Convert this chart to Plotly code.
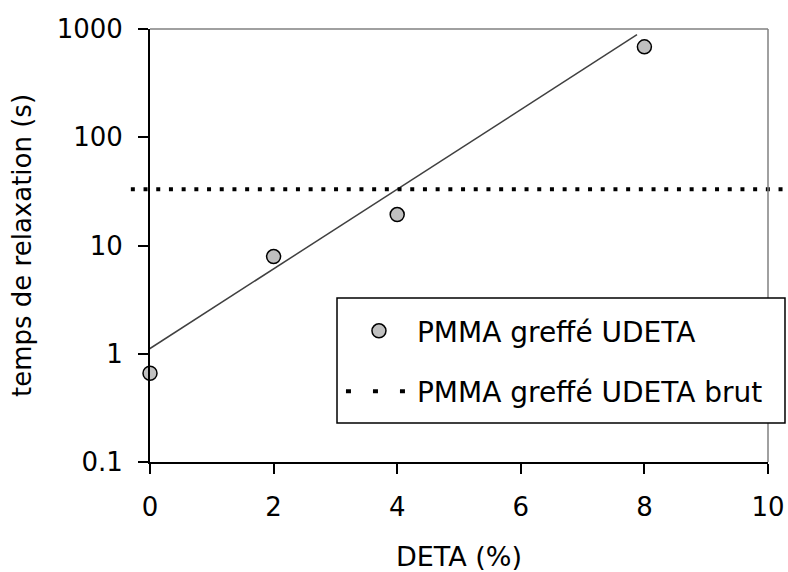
import plotly.graph_objects as go

# values
DETA = [0, 2, 4, 8]
TAU = [0.66, 7.9, 19.3, 684]

# trend line as drawn (end points)
TREND_X = [-0.23, 7.88]
TREND_Y = [0.92, 885]

# relaxation time of the raw grafted polymer (horizontal dotted line)
TAU_BRUT = 33

Y_TICKS = [0.1, 1, 10, 100, 1000]
Y_TICKTEXT = ['0.1', '1', '10', '100', '1000']
X_TICKS = [0, 2, 4, 6, 8, 10]

FONT = 'DejaVu Sans'

fig = go.Figure()

fig.add_trace(go.Scatter(
	x=TREND_X, y=TREND_Y, mode='lines', showlegend=False,
	line=dict(color='#404040', width=1.5), hoverinfo='skip'
))

fig.add_trace(go.Scatter(
	x=DETA, y=TAU, mode='markers', name='PMMA greffé UDETA',
	legendgroup='a', cliponaxis=False,
	marker=dict(size=14, color='#c0c0c0', line=dict(color='black', width=1.5))
))

# legend entry only, the line itself is a shape below
fig.add_trace(go.Scatter(
	x=[None], y=[None], mode='lines', name='PMMA greffé UDETA brut',
	legendgroup='b',
	line=dict(color='black', width=4, dash='5px,22px')
))

fig.add_shape(type='line', xref='paper', yref='y', x0=-0.031, x1=1.04,
	y0=TAU_BRUT, y1=TAU_BRUT, line=dict(color='black', width=4, dash='4px,8.7px'))

# grey frame on top and right
fig.add_shape(type='line', xref='paper', yref='paper', x0=0, x1=1, y0=1, y1=1,
	line=dict(color='#808080', width=1.5))
fig.add_shape(type='line', xref='paper', yref='paper', x0=1, x1=1, y0=0, y1=1,
	line=dict(color='#808080', width=1.5))

# legend frame (wider than plotly's own box)
fig.add_shape(type='rect', xref='paper', yref='paper',
	x0=0.3026, x1=1.0275, y0=0.0901, y1=0.3788,
	fillcolor='white', line=dict(color='black', width=1.5))

fig.update_layout(
	template='none',
	width=788, height=572,
	margin=dict(l=150, r=20, t=29, b=110),
	paper_bgcolor='white', plot_bgcolor='white',
	font=dict(family=FONT, size=26, color='black'),
	legend=dict(
		x=0.309, y=0.36, xanchor='left', yanchor='top',
		bgcolor='rgba(0,0,0,0)', borderwidth=0,
		font=dict(size=28), itemwidth=66, tracegroupgap=21
	)
)

fig.update_xaxes(
	range=[0, 10], tickvals=X_TICKS, showgrid=False, zeroline=False,
	showline=True, linecolor='black', linewidth=2, automargin=False,
	ticks='outside', ticklen=10, tickwidth=2, tickcolor='black',
	ticklabelstandoff=11,
	title=dict(text='DETA (%)', standoff=29, font=dict(size=27))
)
fig.update_yaxes(
	type='log', range=[-1, 3], tickvals=Y_TICKS, ticktext=Y_TICKTEXT,
	showgrid=False, zeroline=False,
	showline=True, linecolor='black', linewidth=2, automargin=False,
	ticks='outside', ticklen=10, tickwidth=2, tickcolor='black',
	ticklabelstandoff=10,
	title=dict(text='temps de relaxation (s)', standoff=18, font=dict(size=26))
)

# drop the default body margin so the figure fills the window exactly
fig.write_html('out.html', config={'displayModeBar': False},
	post_script="document.body.style.margin='0';document.body.style.overflow='hidden';")
